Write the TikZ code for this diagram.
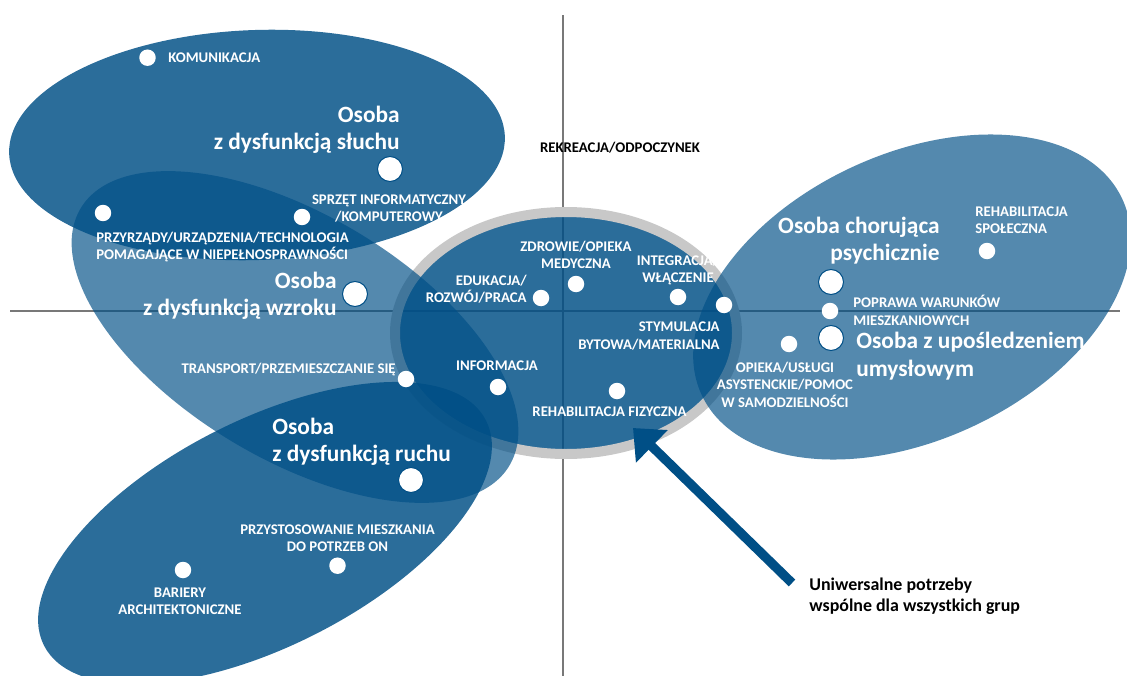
\documentclass[tikz,border=0pt]{standalone}
\usepackage{fontspec}
\setmainfont{Carlito}
\usetikzlibrary{arrows.meta}
\definecolor{nblue}{RGB}{0,79,134}
\definecolor{ringgray}{RGB}{200,200,200}
\definecolor{axisgray}{RGB}{120,120,120}
\tikzset{
  group/.style={fill=nblue,fill opacity=#1},
  group/.default=0.83,
  dot/.style={circle,fill=white,inner sep=0pt,minimum size=0.33cm},
  bigdot/.style={dot,minimum size=0.5cm,draw=nblue,line width=0.6pt},
  big/.style={font=\bfseries\fontsize{13.3}{15.6}\selectfont}
}
\begin{document}
\begin{tikzpicture}[x=0.02cm,y=-0.02cm]
    \useasboundingbox (0,0) rectangle (1127,676);

    % axes
    \coordinate (W) at (10,311);
    \coordinate (E) at (1120,311);
    \coordinate (N) at (563,15);
    \coordinate (S) at (563,676);
    \draw[axisgray,line width=0.6pt] (W) -- (E);
    \draw[axisgray,line width=0.6pt] (N) -- (S);

    % groups
    \fill[group,rotate around={2:(257,145)}] (257,145) ellipse [x radius=248, y radius=115];
    \fill[group] (566,333) ellipse [x radius=171, y radius=121];
    \draw[ringgray,line width=0.2cm] (566,333) ellipse [x radius=171, y radius=121];
    \fill[group=0.67,rotate around={-31:(295,337)}] (295,337) ellipse [x radius=250, y radius=122];
    \fill[group,rotate around={27:(265,533)}] (265,533) ellipse [x radius=248, y radius=113];
    \fill[group=0.67,rotate around={25:(912,297)}] (912,297) ellipse [x radius=232, y radius=143];

    % arrow
    \coordinate (tail) at (792,583);
    \coordinate (tip) at (633,428);
    \draw[nblue,line width=5.3pt,-{Triangle[length=15pt,width=25pt]}] (tail) -- (tip);

    \begin{scope}[every node/.style={dot}]
        \node (dkom) at (147.5,57.7) {};
        \node[bigdot] (dsluch) at (390,169) {};
        \node (dsprzet) at (302,217) {};
        \node (dprzyrz) at (103,213) {};
        \node[bigdot] (dwzrok) at (355,294) {};
        \node (dtransp) at (406,379) {};
        \node (dinfo) at (498,387) {};
        \node[bigdot] (druch) at (411,480) {};
        \node (dprzyst) at (337.5,565.7) {};
        \node (dbar) at (183,570) {};
        \node (dzdrow) at (576,284) {};
        \node (dedu) at (541,298) {};
        \node (dinteg) at (678,297) {};
        \node (dbrzeg) at (724,305) {};
        \node (drehf) at (617,391) {};
        \node (drehs) at (987,251) {};
        \node[bigdot] (dpsych) at (831,282) {};
        \node (dpopr) at (830,311) {};
        \node[bigdot] (dumysl) at (831,338) {};
        \node (dopieka) at (789,344) {};
    \end{scope}

    \begin{scope}[every node/.style={text=white,inner sep=0pt,font=\bfseries\fontsize{8.4}{9.9}\selectfont}]
        \node[anchor=west] (komunikacja) at (168,58) {KOMUNIKACJA};
        \node[align=center] (sprzet) at (389,208.5) {SPRZĘT INFORMATYCZNY\\/KOMPUTEROWY};
        \node[anchor=west,align=left] (przyrzady) at (96,247) {PRZYRZĄDY/URZĄDZENIA/TECHNOLOGIA\\POMAGAJĄCE W NIEPEŁNOSPRAWNOŚCI};
        \node[anchor=east] (transport) at (396,370) {TRANSPORT/PRZEMIESZCZANIE SIĘ};
        \node (informacja) at (497,366) {INFORMACJA};
        \node[align=center] (przystosowanie) at (337.5,538) {PRZYSTOSOWANIE MIESZKANIA\\DO POTRZEB ON};
        \node[align=center] (bariery) at (180,601) {BARIERY\\ARCHITEKTONICZNE};
        \node[text=black] (rekreacja) at (620,148) {REKREACJA/ODPOCZYNEK};
        \node[align=center] (zdrowie) at (576,255) {ZDROWIE/OPIEKA\\MEDYCZNA};
        \node[anchor=east,align=right] (edukacja) at (527,289) {EDUKACJA/\\ROZWÓJ/PRACA};
        \node[align=center] (integracja) at (678,270) {INTEGRACJA/\\WŁĄCZENIE};
        \node[anchor=east,align=right] (stymulacja) at (720,336) {STYMULACJA\\BYTOWA/MATERIALNA};
        \node (rehabf) at (609.5,412) {REHABILITACJA FIZYCZNA};
        \node[anchor=west,align=left] (rehabsp) at (975,220.5) {REHABILITACJA\\SPOŁECZNA};
        \node[anchor=west,align=left] (poprawa) at (853,310.5) {POPRAWA WARUNKÓW\\MIESZKANIOWYCH};
        \node[align=center] (opieka) at (785,384.5) {OPIEKA/USŁUGI\\ASYSTENCKIE/POMOC\\W SAMODZIELNOŚCI};

        \node[big,anchor=east,align=right] (sluch) at (400,130) {Osoba\\z dysfunkcją słuchu};
        \node[big,anchor=east,align=right] (wzrok) at (337,296) {Osoba\\z dysfunkcją wzroku};
        \node[big,anchor=west,align=left] (ruch) at (272,441.5) {Osoba\\z dysfunkcją ruchu};
        \node[big,anchor=east,align=right] (psych) at (940,240.6) {Osoba chorująca\\psychicznie};
        \node[big,anchor=west,align=left] (umysl) at (856,356) {Osoba z upośledzeniem\\umysłowym};

        \node[anchor=west,align=left,text=black,font=\bfseries\fontsize{10.2}{12}\selectfont] (uniw) at (809,596.5) {Uniwersalne potrzeby\\wspólne dla wszystkich grup};
    \end{scope}
\end{tikzpicture}
\end{document}
